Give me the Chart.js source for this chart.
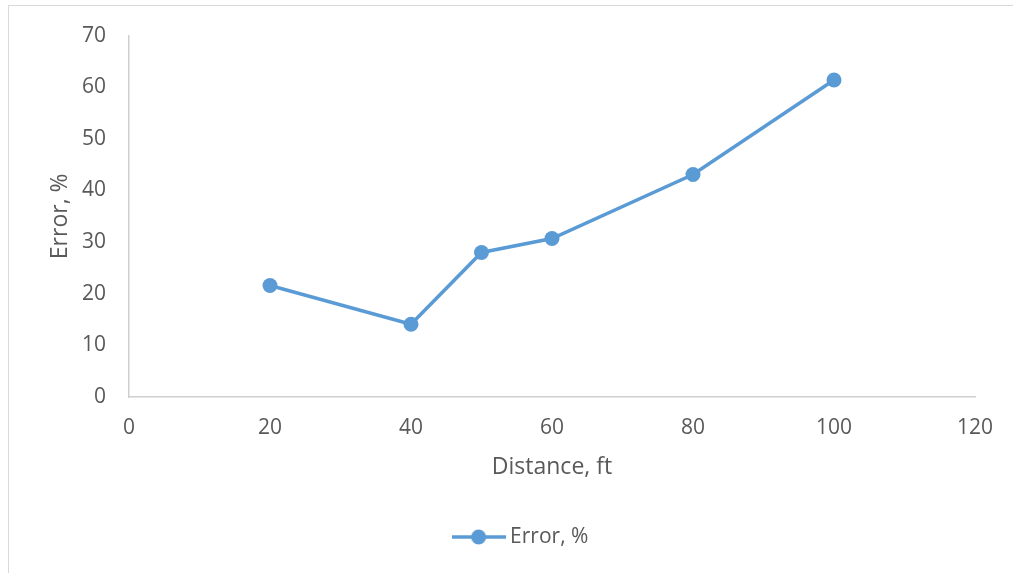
<!DOCTYPE html>
<html>
<head>
<meta charset="utf-8">
<script src="https://cdn.jsdelivr.net/npm/chart.js@4"></script>
<style>
  html, body { margin: 0; padding: 0; background: #fff; overflow: hidden; }
  #wrap { position: relative; width: 1013px; height: 573px; }
  #frame { position: absolute; left: 8px; top: 5px; width: 1100px; height: 700px;
           border: 1.5px solid #d9d9d9; pointer-events: none; }
</style>
</head>
<body>
<div id="wrap">
  <canvas id="chart" width="1013" height="573"></canvas>
  <div id="frame"></div>
</div>
<script>
const distances = [20, 40, 50, 60, 80, 100];
const errors = [21.6, 14.1, 28.0, 30.7, 43.1, 61.4];
const seriesName = "Error, %";
const xTitle = "Distance, ft";
const yTitle = "Error, %";

const blue = "#5B9BD5";
const grey = "#595959";
const font = "'Open Sans', sans-serif";

// legend marker: short line with a dot in the middle
function legendMarker() {
  const c = document.createElement("canvas");
  c.width = 54;
  c.height = 16;
  const g = c.getContext("2d");
  g.strokeStyle = blue;
  g.lineWidth = 3.5;
  g.beginPath();
  g.moveTo(0, 8);
  g.lineTo(54, 8);
  g.stroke();
  g.fillStyle = blue;
  g.beginPath();
  g.arc(27, 8, 7.5, 0, Math.PI * 2);
  g.fill();
  return c;
}

const ctx = document.getElementById("chart").getContext("2d");
new Chart(ctx, {
  type: "line",
  data: {
    datasets: [{
      label: seriesName,
      data: distances.map((d, i) => ({ x: d, y: errors[i] })),
      borderColor: blue,
      backgroundColor: blue,
      borderWidth: 3.5,
      pointRadius: 7.5,
      pointHoverRadius: 7.5,
      pointBorderWidth: 0,
      pointBackgroundColor: blue,
      pointStyle: "circle",
      tension: 0
    }]
  },
  options: {
    responsive: false,
    animation: false,
    layout: { padding: { left: 71, right: 38, top: 35, bottom: 15.5 } },
    plugins: {
      tooltip: { enabled: false },
      legend: {
        position: "bottom",
        labels: {
          usePointStyle: true,
          pointStyle: legendMarker(),
          pointStyleWidth: 42,
          padding: 10,
          color: grey,
          font: { family: font, size: 21 }
        }
      }
    },
    scales: {
      x: {
        type: "linear",
        min: 0,
        max: 120,
        ticks: { stepSize: 20, color: grey, padding: 18, font: { family: font, size: 21 } },
        grid: { display: false, drawTicks: false },
        border: { display: true, color: "#cfcfcf", width: 1.5 },
        title: { display: true, text: xTitle, color: grey,
                 font: { family: font, size: 23 }, padding: { top: 0, bottom: 35.7 } },
        afterFit: (scale) => { scale.height = 119.5; }
      },
      y: {
        min: 0,
        max: 70,
        ticks: { stepSize: 10, color: grey, padding: 23, font: { family: font, size: 21 } },
        grid: { display: false, drawTicks: false },
        border: { display: true, color: "#cfcfcf", width: 1.5 },
        title: { display: true, text: yTitle, color: grey,
                 font: { family: font, size: 23 }, padding: { top: -24.8, bottom: 0 } },
        afterFit: (scale) => { scale.width = 58; }
      }
    }
  }
});
</script>
</body>
</html>
